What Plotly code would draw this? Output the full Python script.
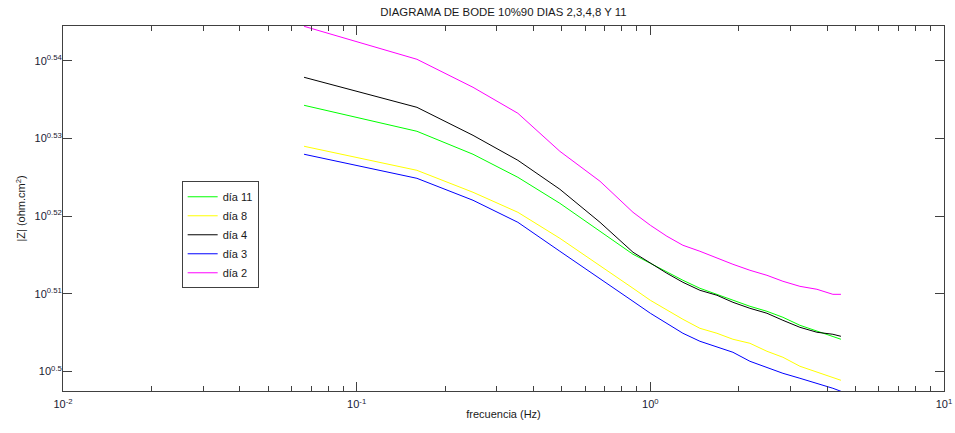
import numpy as np
import plotly.graph_objects as go

# frecuencias (Hz)
frecuencia = [0.0662, 0.1604, 0.249, 0.354, 0.492, 0.674, 0.873, 1.0, 1.139, 1.291,
              1.475, 1.686, 1.911, 2.183, 2.495, 2.828, 3.231, 3.692, 4.184, 4.457]

# log10 |Z|
logz_dia11 = [0.53429, 0.53094, 0.52798, 0.52501, 0.52166, 0.51805, 0.51509, 0.51393, 0.51277, 0.51174,
              0.51071, 0.50993, 0.50916, 0.50839, 0.50774, 0.50697, 0.50594, 0.50517, 0.50452, 0.50414]
logz_dia8 = [0.52901, 0.52591, 0.52308, 0.52050, 0.51715, 0.51367, 0.51071, 0.50916, 0.50787, 0.50671,
             0.50555, 0.50491, 0.50414, 0.50362, 0.50259, 0.50182, 0.50066, 0.49988, 0.49924, 0.49885]
logz_dia4 = [0.53790, 0.53403, 0.53042, 0.52720, 0.52347, 0.51921, 0.51535, 0.51393, 0.51264, 0.51148,
             0.51045, 0.50981, 0.50890, 0.50813, 0.50749, 0.50658, 0.50568, 0.50504, 0.50478, 0.50452]
logz_dia3 = [0.52798, 0.52488, 0.52205, 0.51921, 0.51548, 0.51200, 0.50903, 0.50749, 0.50620, 0.50491,
             0.50388, 0.50310, 0.50246, 0.50130, 0.50053, 0.49975, 0.49911, 0.49846, 0.49782, 0.49743]
logz_dia2 = [0.54447, 0.54022, 0.53661, 0.53326, 0.52836, 0.52450, 0.52050, 0.51883, 0.51741, 0.51625,
             0.51548, 0.51457, 0.51380, 0.51303, 0.51238, 0.51161, 0.51096, 0.51058, 0.50993, 0.50993]

series = [('día 11', logz_dia11, '#00ff00'),
          ('día 8', logz_dia8, '#ffff00'),
          ('día 4', logz_dia4, '#000000'),
          ('día 3', logz_dia3, '#0000ff'),
          ('día 2', logz_dia2, '#ff00ff')]

x_ticks = [0.01, 0.1, 1, 10]
x_ticktext = ['10<sup>-2</sup>', '10<sup>-1</sup>', '10<sup>0</sup>', '10<sup>1</sup>']
x_minor = [m * d for d in [0.01, 0.1, 1] for m in range(2, 10)]
y_exp = [0.5, 0.51, 0.52, 0.53, 0.54]
y_ticktext = ['10<sup>0.5</sup>', '10<sup>0.51</sup>', '10<sup>0.52</sup>', '10<sup>0.53</sup>', '10<sup>0.54</sup>']

fig = go.Figure()
for nombre, logz, color in series:
    fig.add_trace(go.Scatter(
        x=frecuencia,
        y=10 ** np.array(logz),
        mode='lines',
        name=nombre,
        line=dict(color=color, width=1)
    ))

# traza vacia para el eje de ticks menores
fig.add_trace(go.Scatter(x=[None], y=[None], xaxis='x2', showlegend=False, hoverinfo='skip'))

ejes = dict(
    type='log',
    showline=True,
    linecolor='#404040',
    linewidth=1,
    mirror='ticks',
    ticks='inside',
    tickcolor='#404040',
    showgrid=False,
    zeroline=False,
    automargin=False,
    tickfont=dict(family='Liberation Sans, Arial', size=11, color='#1a1a33'),
)

fig.update_layout(
    width=955,
    height=433,
    paper_bgcolor='white',
    plot_bgcolor='white',
    margin=dict(l=63, r=11, t=26, b=42),
    font=dict(family='Liberation Sans, Arial', size=11, color='#1a1a1a'),
    title=dict(text='DIAGRAMA DE BODE 10%90 DIAS 2,3,4,8 Y 11',
               x=0.5, xref='paper', y=0.972, yanchor='middle',
               font=dict(size=11.4, color='#1a1a1a')),
    xaxis=dict(ejes,
               range=[-2, 1],
               tickvals=x_ticks,
               ticktext=x_ticktext,
               ticklen=9,
               ticklabelstandoff=3,
               title=dict(text='frecuencia (Hz)', standoff=1, font=dict(size=11))),
    xaxis2=dict(ejes,
                overlaying='x',
                range=[-2, 1],
                tickvals=x_minor,
                ticklen=5,
                showticklabels=False),
    yaxis=dict(ejes,
               range=[0.49747, 0.54451],
               tickvals=[10 ** e for e in y_exp],
               ticktext=y_ticktext,
               ticklen=9,
               ticklabelstandoff=-2,
               title=dict(text='|Z| (ohm.cm<sup>2</sup>)', standoff=6, font=dict(size=11))),
    legend=dict(
        x=0.1347, y=0.428, xanchor='left', yanchor='middle',
        bordercolor='#404040', borderwidth=1, bgcolor='white',
        font=dict(size=11), tracegroupgap=0, itemwidth=30
    ),
    showlegend=True
)

# quitar el margen del body para que el grafico empiece en la esquina
fig.write_html("out.html", config={'displayModeBar': False},
               post_script="document.body.style.margin='0';")
